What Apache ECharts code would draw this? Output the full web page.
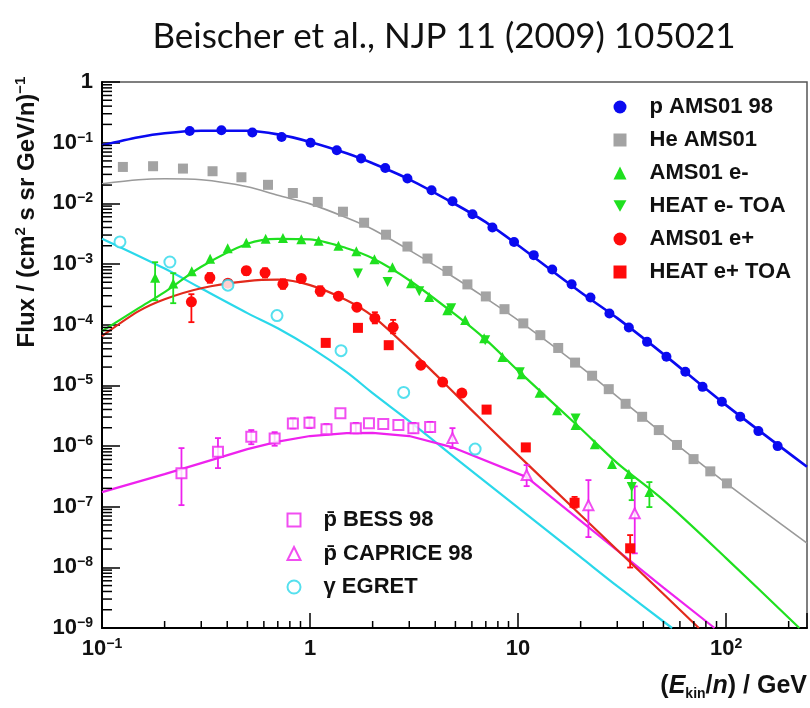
<!DOCTYPE html>
<html><head><meta charset="utf-8">
<script src="https://cdn.jsdelivr.net/npm/echarts@6/dist/echarts.min.js"></script>
<style>html,body{margin:0;padding:0;background:#fff}#c{width:810px;height:708px}</style>
</head><body><div id="c"></div><script>
// ---------------- data ----------------
// p AMS01 98
const pAmsX = [0.264,0.375,0.528,0.730,1.006,1.345,1.76,2.30,2.94,3.84,4.84,6.04,7.53,9.57,11.9,14.6,18.1,22.3,27.5,34.1,41.7,51.7,63.7,77.1,95.5,117,143,177];
const pAmsY = [0.156,0.160,0.147,0.124,0.100,0.0750,0.0547,0.0383,0.0256,0.0164,0.0108,0.00661,0.00399,0.00231,0.00140,8.12e-4,4.65e-4,2.81e-4,1.53e-4,9.0e-5,5.21e-5,2.95e-5,1.67e-5,9.44e-6,5.35e-6,3.03e-6,1.76e-6,9.96e-7];
// He AMS01
const heX = [0.126,0.176,0.245,0.340,0.468,0.628,0.827,1.09,1.44,1.82,2.32,2.94,3.67,4.58,5.71,7.00,8.61,10.6,12.8,15.6,18.8,22.7,27.3,32.9,39.5,47.5,58.1,69.8,84.0,101];
const heY = [0.0398,0.0409,0.0374,0.0338,0.0269,0.0202,0.0148,0.01055,0.00728,0.00479,0.00304,0.00194,0.00123,7.69e-4,4.61e-4,2.92e-4,1.80e-4,1.05e-4,6.71e-5,4.13e-5,2.37e-5,1.44e-5,8.65e-6,4.96e-6,3.03e-6,1.83e-6,1.04e-6,6.08e-7,3.82e-7,2.42e-7];
// AMS01 e-
const emAmsX = [0.180,0.220,0.270,0.331,0.402,0.494,0.612,0.741,0.908,1.10,1.37,1.67,2.04,2.49,3.06,3.74,4.57,5.57,6.87,8.41,10.4,12.7,15.4,18.9,23.4,28.3,34.1,42.8];
const emAmsY = [5.94e-4,4.77e-4,7.61e-4,1.22e-3,1.82e-3,2.24e-3,2.61e-3,2.69e-3,2.56e-3,2.42e-3,2.00e-3,1.63e-3,1.20e-3,8.85e-4,4.8e-4,2.87e-4,1.73e-4,1.19e-4,6.0e-5,2.92e-5,1.53e-5,7.58e-6,3.90e-6,2.21e-6,1.07e-6,5.03e-7,3.44e-7,1.74e-7];
const emAmsErr = [[0.180,2.53e-4,1.07e-3],[0.220,2.26e-4,7.05e-4],[42.8,9.84e-8,2.54e-7]];
// HEAT e- TOA
const emHeatX = [1.70,2.36,3.35,4.77,6.95,10.2,18.9,35.2];
const emHeatY = [6.97e-4,5.07e-4,3.56e-4,1.87e-4,5.56e-5,1.65e-5,2.85e-6,2.10e-7];
const emHeatErr = [[35.2,1.28e-7,2.96e-7]];
// AMS01 e+
const epAmsX = [0.269,0.330,0.403,0.494,0.608,0.741,0.908,1.12,1.37,1.68,2.05,2.51,3.41,4.34,5.37];
const epAmsY = [2.38e-4,5.94e-4,4.83e-4,7.76e-4,7.19e-4,4.65e-4,5.77e-4,3.56e-4,2.95e-4,1.94e-4,1.28e-4,9.1e-5,2.15e-5,1.13e-5,7.44e-6];
const epAmsErr = [[0.269,1.10e-4,3.18e-4],[0.330,4.9e-4,7.1e-4],[0.494,6.6e-4,9.0e-4],[0.608,6.0e-4,8.5e-4],[0.741,3.9e-4,5.6e-4],[1.12,3.0e-4,4.3e-4],[2.05,1.05e-4,1.6e-4],[2.51,7.2e-5,1.2e-4]];
// HEAT e+ TOA
const epHeatX = [1.19,1.70,2.39,7.06,10.9,18.7,34.6];
const epHeatY = [5.01e-5,8.86e-5,4.59e-5,3.98e-6,9.48e-7,1.16e-7,2.06e-8];
const epHeatErr = [[18.7,9.6e-8,1.45e-7],[34.6,9.93e-9,3.40e-8]];
// pbar BESS 98
const bessX = [0.241,0.361,0.522,0.676,0.827,0.994,1.20,1.40,1.66,1.92,2.25,2.66,3.14,3.78];
const bessY = [3.54e-7,8.02e-7,1.42e-6,1.33e-6,2.36e-6,2.41e-6,1.88e-6,3.48e-6,1.97e-6,2.38e-6,2.30e-6,2.21e-6,1.97e-6,2.05e-6];
const bessErr = [[0.241,1.06e-7,9.23e-7],[0.361,4.32e-7,1.35e-6],[0.522,1.07e-6,1.83e-6],[0.676,1.01e-6,1.69e-6],[0.827,1.95e-6,2.85e-6],[0.994,1.98e-6,2.95e-6],[1.20,1.55e-6,2.3e-6],[1.66,1.62e-6,2.4e-6],[3.14,1.65e-6,2.4e-6],[3.78,1.7e-6,2.5e-6]];
// pbar CAPRICE 98
const capX = [4.84,11.0,21.8,36.4];
const capY = [1.35e-6,3.32e-7,1.06e-7,7.76e-8];
const capErr = [[4.84,9.23e-7,1.97e-6],[11.0,2.18e-7,4.84e-7],[21.8,3.15e-8,2.74e-7],[36.4,1.70e-8,2.16e-7]];
// gamma EGRET
const egretX = [0.122,0.212,0.403,0.694,1.41,2.82,6.22];
const egretY = [2.31e-3,1.08e-3,4.48e-4,1.41e-4,3.73e-5,7.64e-6,8.89e-7];

// model curves
const pModX = [0.1,0.15,0.2,0.3,0.5,0.7,1,1.5,2,3,5,7,10,20,30,50,100,245];
const pModY = [0.0906,0.123,0.143,0.157,0.157,0.137,0.103,0.0669,0.0458,0.0249,0.00966,0.00489,0.00204,3.43e-4,1.28e-4,3.27e-5,4.72e-6,4.54e-7];
const heModX = [0.1,0.15,0.2,0.3,0.5,0.7,1,1.5,2,3,5,7,10,20,30,50,100,245];
const heModY = [0.0210,0.0245,0.0254,0.0245,0.0188,0.0136,0.0098,0.00579,0.00374,0.00169,5.83e-4,2.73e-4,1.19e-4,2.02e-5,6.52e-6,1.57e-6,2.45e-7,2.51e-8];
const emModX = [0.1,0.15,0.2,0.3,0.5,0.7,1,1.5,2,3,5,7,10,20,30,50,100,225];
const emModY = [7.82e-5,1.87e-4,3.43e-4,9.0e-4,2.15e-3,2.60e-3,2.55e-3,1.82e-3,1.24e-3,5.4e-4,1.46e-4,5.66e-5,1.75e-5,1.94e-6,5.22e-7,1.28e-7,1.42e-8,1e-9];
const epModX = [0.1,0.15,0.2,0.3,0.5,0.7,1,1.5,2,3,4,5,7,10,20,30,50,74];
const epModY = [6.46e-5,1.67e-4,2.63e-4,3.99e-4,5.21e-4,5.51e-4,4.48e-4,2.53e-4,1.38e-4,3.95e-5,1.53e-5,7.16e-6,2.30e-6,7.08e-7,7.27e-8,1.93e-8,3.63e-9,1e-9];
const gModX = [0.1,0.2,0.3,0.5,0.7,1,1.5,2,3,5,10,20,30,55];
const gModY = [2.61e-3,8.4e-4,3.95e-4,1.55e-4,8.75e-5,4.26e-5,1.65e-5,7.44e-6,2.57e-6,6.32e-7,9.62e-8,1.47e-8,4.89e-9,1e-9];
const pbModX = [0.1,0.2,0.3,0.5,0.7,1,1.5,2,3,4.8,11,20,50,88];
const pbModY = [1.74e-7,3.44e-7,5.23e-7,8.89e-7,1.18e-6,1.46e-6,1.63e-6,1.65e-6,1.46e-6,9.6e-7,3.07e-7,5.83e-8,4.63e-9,1e-9];

// axis ticks / labels
const xTickVals = [0.1, 1, 10, 100];
const xTickText = ['10^{−1}', '1', '10', '10^{2}'];
const yTickVals = [1, 1e-1, 1e-2, 1e-3, 1e-4, 1e-5, 1e-6, 1e-7, 1e-8, 1e-9];
const yTickText = ['1','10^{−1}','10^{−2}','10^{−3}','10^{−4}','10^{−5}','10^{−6}','10^{−7}','10^{−8}','10^{−9}'];
const xRange = [0.1, 245];
const yRange = [1e-9, 1];

// ---------------- helpers ----------------
const zip = (xs, ys) => xs.map((x, i) => [x, ys[i]]);
const FONT = 'Liberation Sans, Arial, sans-serif';
function richFromTex(s) {
  const m = s.match(/^(.*)\^\{(.*)\}$/);
  return m ? '{b|' + m[1] + '}{s|' + m[2] + '}' : '{b|' + s + '}';
}
function tickFormatter(vals, texts) {
  return function (v) {
    for (let i = 0; i < vals.length; i++) {
      if (Math.abs(Math.log10(v) - Math.log10(vals[i])) < 1e-6) return richFromTex(texts[i]);
    }
    return '';
  };
}
const tickRich = {
  b: { fontSize: 22, fontWeight: 'bold', fontFamily: FONT, color: '#111', lineHeight: 24 },
  s: { fontSize: 14, fontWeight: 'bold', fontFamily: FONT, color: '#111', lineHeight: 14, verticalAlign: 'top' }
};
function errSeries(data, color) {
  return {
    type: 'custom', silent: true, z: 4, data: data, encode: { x: 0, y: [1, 2] },
    renderItem: function (params, api) {
      const x = api.value(0), lo = api.value(1), hi = api.value(2);
      const a = api.coord([x, lo]), b = api.coord([x, hi]);
      const w = 3, st = { stroke: color, lineWidth: 1.8 };
      return { type: 'group', children: [
        { type: 'line', shape: { x1: a[0], y1: a[1], x2: b[0], y2: b[1] }, style: st },
        { type: 'line', shape: { x1: a[0] - w, y1: a[1], x2: a[0] + w, y2: a[1] }, style: st },
        { type: 'line', shape: { x1: b[0] - w, y1: b[1], x2: b[0] + w, y2: b[1] }, style: st }
      ] };
    }
  };
}
// minor tick positions (2..9 per decade)
const yMinor = [], xMinor = [];
for (let e = -9; e < 0; e++) for (let k = 2; k <= 9; k++) yMinor.push(k * Math.pow(10, e));
for (let e = -1; e < 3; e++) for (let k = 2; k <= 9; k++) { const v = k * Math.pow(10, e); if (v < xRange[1]) xMinor.push(v); }

function lineSeries(xs, ys, color, width, smooth) {
  return { type: 'line', data: zip(xs, ys), showSymbol: false, symbol: 'none', smooth: smooth,
    lineStyle: { color: color, width: width }, z: 2, silent: true, clip: true };
}
function scatter(name, xs, ys, symbol, size, color, extra) {
  return Object.assign({ type: 'scatter', name: name, data: zip(xs, ys), symbol: symbol, symbolSize: size,
    itemStyle: { color: color, opacity: 1 }, z: 5 }, extra || {});
}

const BLUE = '#0a0af0', GRAY = '#a3a3a3', GRAYL = '#9a9a9a', GREEN = '#1fe01f', RED = '#ff0a0a', REDL = '#e22a1c', MAG = '#ee22ee', CYAN = '#2ad8ea';
const legendText = { fontSize: 22, fontWeight: 'bold', fontFamily: FONT, color: '#111', lineHeight: 24,
  rich: { a: { fontSize: 22, fontWeight: 'bold', fontFamily: FONT, color: '#111', lineHeight: 24, padding: [0, 0, 0, 18] } } };

const chart = echarts.init(document.getElementById('c'), null, { renderer: 'canvas' });
chart.setOption({
  animation: false,
  backgroundColor: '#fff',
  grid: { left: 102, top: 82, width: 705, height: 546, show: true, borderColor: '#555', borderWidth: 1.5,
    containLabel: false, outerBoundsMode: 'none' },
  xAxis: {
    type: 'log', logBase: 10, min: xRange[0], max: xRange[1], interval: 1,
    axisLine: { show: true, lineStyle: { color: '#000', width: 2 } },
    axisTick: { show: true, inside: true, length: 15, lineStyle: { color: '#000', width: 1.5 } },
    axisLabel: { formatter: tickFormatter(xTickVals, xTickText), rich: tickRich, margin: 9, showMinLabel: true, showMaxLabel: true },
    splitLine: { show: false }, minorTick: { show: false }
  },
  yAxis: {
    type: 'log', logBase: 10, min: yRange[0], max: yRange[1], interval: 1,
    axisLine: { show: true, lineStyle: { color: '#000', width: 2 } },
    axisTick: { show: true, inside: true, length: 18, lineStyle: { color: '#000', width: 1.5 } },
    axisLabel: { formatter: tickFormatter(yTickVals, yTickText), rich: tickRich, margin: 9 },
    splitLine: { show: false }, minorTick: { show: false }
  },
  legend: [
    { data: ['p AMS01 98', 'He AMS01', 'AMS01 e-', 'HEAT e- TOA', 'AMS01 e+', 'HEAT e+ TOA'],
      orient: 'vertical', left: 613.5, top: 95, padding: 0, itemWidth: 13, itemHeight: 13, itemGap: 9,
      selectedMode: false, formatter: n => '{a|' + n + '}', textStyle: legendText },
    { data: ['p̄ BESS 98', 'p̄ CAPRICE 98', 'γ EGRET'],
      orient: 'vertical', left: 286.5, top: 508, padding: 0, itemWidth: 13, itemHeight: 13, itemGap: 9.5,
      selectedMode: false, formatter: n => '{a|' + n + '}', textStyle: legendText }
  ],
  series: [
    lineSeries(gModX, gModY, CYAN, 2.2, 0.3),
    lineSeries(pbModX, pbModY, MAG, 2.2, false),
    lineSeries(heModX, heModY, GRAYL, 1.6, 0.3),
    lineSeries(epModX, epModY, REDL, 2.2, 0.3),
    lineSeries(emModX, emModY, GREEN, 2.2, 0.3),
    lineSeries(pModX, pModY, BLUE, 2.6, 0.3),
    errSeries(emAmsErr, GREEN), errSeries(emHeatErr, GREEN),
    errSeries(epAmsErr, RED), errSeries(epHeatErr, RED),
    errSeries(bessErr, MAG), errSeries(capErr, MAG),
    scatter('p AMS01 98', pAmsX, pAmsY, 'circle', 10, BLUE),
    scatter('He AMS01', heX, heY, 'rect', 10, GRAY),
    scatter('AMS01 e-', emAmsX, emAmsY, 'triangle', 10, GREEN),
    scatter('HEAT e- TOA', emHeatX, emHeatY, 'path://M0,0L10,0L5,9Z', 10, GREEN),
    scatter('AMS01 e+', epAmsX, epAmsY, 'circle', 11, RED),
    scatter('HEAT e+ TOA', epHeatX, epHeatY, 'rect', 10, RED),
    scatter('p̄ BESS 98', bessX, bessY, 'emptyRect', 10, MAG, { itemStyle: { color: MAG, borderColor: MAG, borderWidth: 1.6 } }),
    scatter('p̄ CAPRICE 98', capX, capY, 'emptyTriangle', 10, MAG, { itemStyle: { color: MAG, borderColor: MAG, borderWidth: 1.6 } }),
    scatter('γ EGRET', egretX, egretY, 'emptyCircle', 11, CYAN, { itemStyle: { color: CYAN, borderColor: CYAN, borderWidth: 1.6 } }),
    { type: 'custom', silent: true, z: 10, clip: false, data: yMinor.map(v => [xRange[0], v]),
      renderItem: function (p, api) { const c = api.coord([api.value(0), api.value(1)]);
        return { type: 'line', shape: { x1: c[0], y1: c[1], x2: c[0] + 10, y2: c[1] }, style: { stroke: '#000', lineWidth: 1.5 } }; } },
    { type: 'custom', silent: true, z: 10, clip: false, data: xMinor.map(v => [v, yRange[0]]),
      renderItem: function (p, api) { const c = api.coord([api.value(0), api.value(1)]);
        return { type: 'line', shape: { x1: c[0], y1: c[1], x2: c[0], y2: c[1] - 7 }, style: { stroke: '#000', lineWidth: 1.5 } }; } }
  ],
  graphic: [
    { type: 'text', x: 444, y: 37, style: { text: 'Beischer et al., NJP 11 (2009) 105021', fontSize: 35, fontFamily: 'Lato, Open Sans, sans-serif',
        fill: '#111', align: 'center', verticalAlign: 'middle' } },
    { type: 'text', x: 27, y: 212, rotation: Math.PI / 2,
      style: { text: '{t|Flux / (cm}{s|2}{t| s sr GeV/n)}{s|−1}', align: 'center', verticalAlign: 'middle',
        rich: { t: { fontSize: 24, fontWeight: 'bold', fontFamily: FONT, fill: '#111', lineHeight: 28 },
                s: { fontSize: 15, fontWeight: 'bold', fontFamily: FONT, fill: '#111', lineHeight: 15, verticalAlign: 'top' } } } },
    { type: 'text', x: 807, y: 686,
      style: { text: '{t|(}{i|E}{sub|kin}{t|/}{i|n}{t|) / GeV}', align: 'right', verticalAlign: 'middle',
        rich: { t: { fontSize: 25, fontWeight: 'bold', fontFamily: FONT, fill: '#111', lineHeight: 30 },
                i: { fontSize: 25, fontWeight: 'bold', fontStyle: 'italic', fontFamily: FONT, fill: '#111', lineHeight: 30 },
                sub: { fontSize: 14, fontWeight: 'bold', fontFamily: FONT, fill: '#111', lineHeight: 14, verticalAlign: 'bottom' } } } }
  ]
});
</script></body></html>
